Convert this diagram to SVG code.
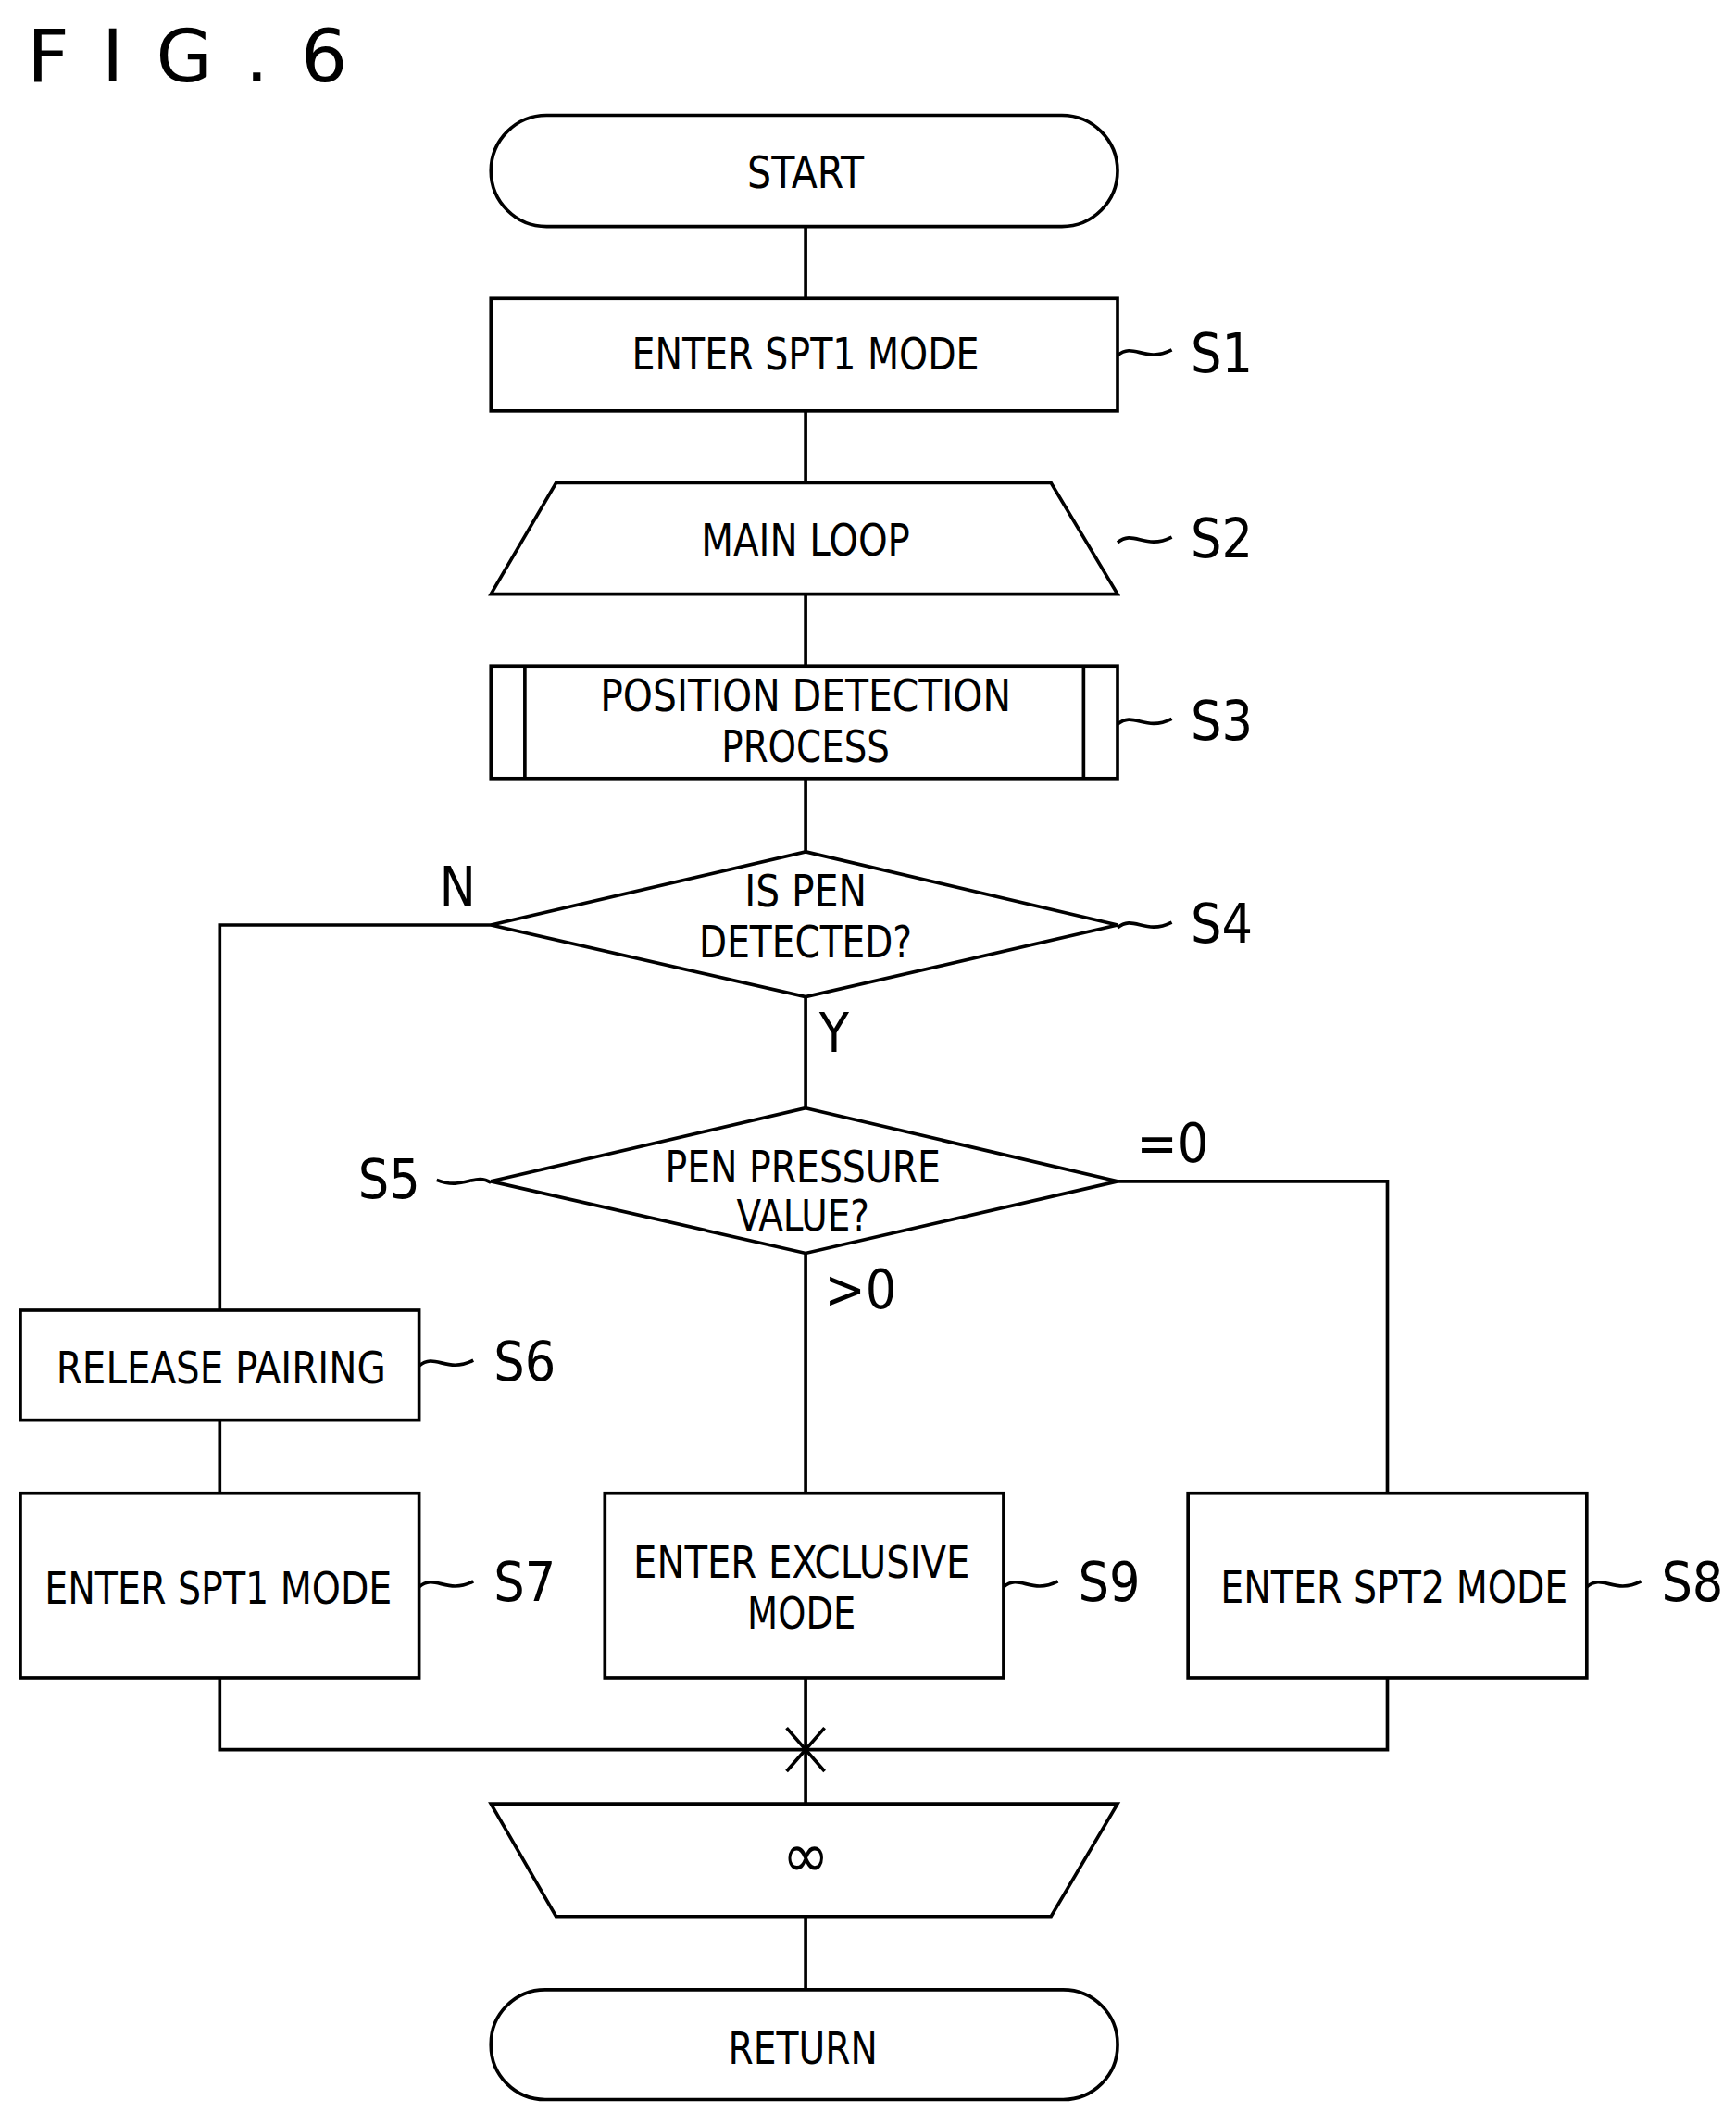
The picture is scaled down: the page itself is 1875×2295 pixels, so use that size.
<svg xmlns="http://www.w3.org/2000/svg" width="1875" height="2295" viewBox="0 0 1875 2295">
<style>
.s{fill:#fff;stroke:#000;stroke-width:2.5}
.c{fill:none;stroke:#000;stroke-width:2.5}
.t{font-family:"DejaVu Sans Condensed","DejaVu Sans",sans-serif;font-size:33px;text-anchor:middle;dominant-baseline:central}
.l{font-family:"DejaVu Sans Condensed","DejaVu Sans",sans-serif;font-size:40px;dominant-baseline:central}
</style>
<rect width="1875" height="2295" fill="#fff"/>
<g transform="scale(1.4648)">
<text x="20" y="60" font-family="DejaVu Sans, sans-serif" font-size="54" letter-spacing="24">FIG.6</text>
<g id="connectors" class="c">
<path d="M594,167V220M594,303V356M594,438V491M594,574V628M594,735V817M594,924V1101"/>
<path d="M362,682H162V966M162,1047V1101"/>
<path d="M824,871H1023V1101"/>
<path d="M162,1237V1290H1023V1237M594,1237V1330M594,1413V1467"/>
<path d="M580,1274L608,1306M608,1274L580,1306"/>
<path d="M824,262c12,-10 20,6 40,-4M824,400c12,-10 20,6 40,-4M824,534c12,-10 20,6 40,-4M824,684c12,-10 20,6 40,-4M362,872c-12,-8 -20,6 -40,-2M309,1007c12,-10 20,6 40,-4M309,1170c12,-10 20,6 40,-4M740,1170c12,-10 20,6 40,-4M1170,1170c12,-10 20,6 40,-4"/>
</g>
<g id="start"><rect class="s" x="362" y="85" width="462" height="82" rx="41"/><text class="t" x="594" y="127" textLength="86" lengthAdjust="spacingAndGlyphs">START</text></g>
<g id="s1"><rect class="s" x="362" y="220" width="462" height="83"/><text class="t" x="594" y="261" textLength="256" lengthAdjust="spacingAndGlyphs">ENTER SPT1 MODE</text><text class="l" x="878" y="261">S1</text></g>
<g id="s2"><path class="s" d="M410,356H775L824,438H362Z"/><text class="t" x="594" y="398" textLength="154" lengthAdjust="spacingAndGlyphs">MAIN LOOP</text><text class="l" x="878" y="397">S2</text></g>
<g id="s3"><rect class="s" x="362" y="491" width="462" height="83"/><path class="c" d="M387,491V574M799,491V574"/><text class="t" x="594" y="513" textLength="303" lengthAdjust="spacingAndGlyphs">POSITION DETECTION</text><text class="t" x="594" y="550" textLength="124" lengthAdjust="spacingAndGlyphs">PROCESS</text><text class="l" x="878" y="532">S3</text></g>
<g id="s4"><path class="s" d="M594,628L824,682L594,735L362,682Z"/><text class="t" x="594" y="657" textLength="90" lengthAdjust="spacingAndGlyphs">IS PEN</text><text class="t" x="594" y="694" textLength="157" lengthAdjust="spacingAndGlyphs">DETECTED?</text><text class="l" x="324" y="654">N</text><text class="l" x="604" y="762">Y</text><text class="l" x="878" y="681">S4</text></g>
<g id="s5"><path class="s" d="M594,817L824,871L594,924L362,871Z"/><text class="t" x="592" y="860" textLength="203" lengthAdjust="spacingAndGlyphs">PEN PRESSURE</text><text class="t" x="592" y="897" textLength="98" lengthAdjust="spacingAndGlyphs" style="font-size:31px">VALUE?</text><text class="l" x="264" y="870">S5</text><text class="l" x="838" y="843">=0</text><text class="l" x="608" y="951">&gt;0</text></g>
<g id="s6"><rect class="s" x="15" y="966" width="294" height="81"/><text class="t" x="163" y="1008" textLength="243" lengthAdjust="spacingAndGlyphs">RELEASE PAIRING</text><text class="l" x="364" y="1004">S6</text></g>
<g id="s7"><rect class="s" x="15" y="1101" width="294" height="136"/><text class="t" x="161" y="1171" textLength="256" lengthAdjust="spacingAndGlyphs">ENTER SPT1 MODE</text><text class="l" x="364" y="1167">S7</text></g>
<g id="s9"><rect class="s" x="446" y="1101" width="294" height="136"/><text class="t" x="591" y="1152" textLength="248" lengthAdjust="spacingAndGlyphs">ENTER EXCLUSIVE</text><text class="t" x="591" y="1189" textLength="80" lengthAdjust="spacingAndGlyphs">MODE</text><text class="l" x="795" y="1167">S9</text></g>
<g id="s8"><rect class="s" x="876" y="1101" width="294" height="136"/><text class="t" x="1028" y="1170" textLength="256" lengthAdjust="spacingAndGlyphs">ENTER SPT2 MODE</text><text class="l" x="1225" y="1167">S8</text></g>
<g id="loopend"><path class="s" d="M362,1330H824L775,1413H410Z"/><text class="t" x="594" y="1368" style="font-size:46px">∞</text></g>
<g id="return"><rect class="s" x="362" y="1467" width="462" height="81" rx="40"/><text class="t" x="592" y="1510" textLength="110" lengthAdjust="spacingAndGlyphs">RETURN</text></g>
</g>
</svg>
